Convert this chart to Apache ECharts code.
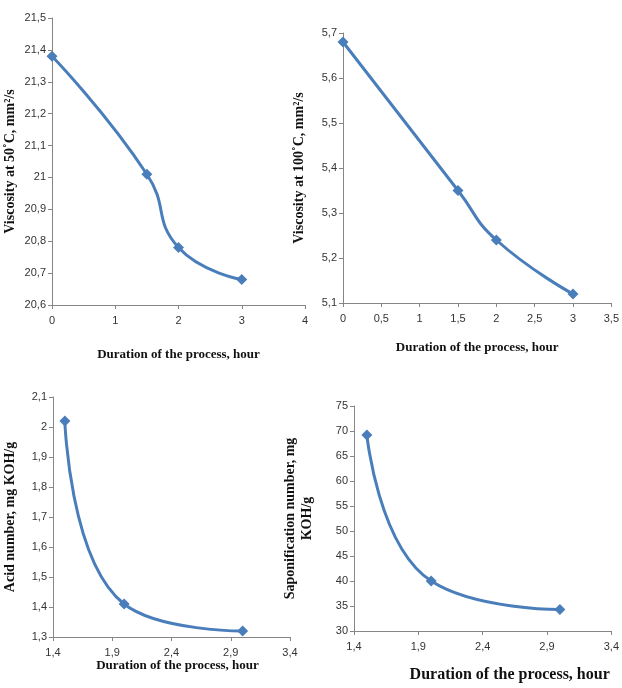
<!DOCTYPE html>
<html>
<head>
<meta charset="utf-8">
<script src="https://cdn.jsdelivr.net/npm/echarts@6/dist/echarts.min.js"></script>
<style>
html, body { margin: 0; padding: 0; background: #fff; }
#main { width: 622px; height: 688px; }
</style>
</head>
<body>
<div id="main"></div>
<script>
// process duration, hours
var durTop = [0, 1.5, 2, 3];
var durBottom = [1.5, 2, 3];
var visc50 = [21.38, 21.01, 20.78, 20.68];
var visc100 = [5.68, 5.35, 5.24, 5.12];
var acidNum = [2.02, 1.41, 1.32];
var saponNum = [69.2, 40, 34.3];

var xName = 'Duration of the process, hour';
var yNames = [
	'Viscosity at 50˚C, mm²/s',
	'Viscosity at 100˚C, mm²/s',
	'Acid number, mg KOH/g',
	'Saponification number, mg\nKOH/g'
];

var lineColor = '#4a7ebb';
var axisColor = '#868686';

function comma(v){
	return String(+v.toFixed(1)).replace('.', ',');
}

function pairs(xs, ys){
	var out = [];
	for(var i = 0; i < xs.length; i++){
		out.push([xs[i], ys[i]]);
	}
	return out;
}

function makeX(idx, min, max, interval, gap, fontSize, padLeft){
	return {
		type: 'value',
		gridIndex: idx,
		min: min,
		max: max,
		interval: interval,
		name: xName,
		nameLocation: 'middle',
		nameGap: gap,
		nameTextStyle: {
			fontFamily: 'Liberation Serif',
			fontWeight: 'bold',
			fontSize: fontSize,
			color: '#111',
			padding: [0, 0, 0, padLeft]
		},
		axisLine: {show: true, onZero: false, lineStyle: {color: axisColor}},
		axisTick: {show: true, inside: false, length: 4, lineStyle: {color: axisColor}},
		splitLine: {show: false},
		axisLabel: {
			formatter: comma,
			fontFamily: 'Liberation Sans',
			fontSize: 11,
			color: '#333',
			margin: 10
		}
	};
}

function makeY(idx, min, max, interval, name, gap){
	return {
		type: 'value',
		gridIndex: idx,
		min: min,
		max: max,
		interval: interval,
		name: name,
		nameLocation: 'middle',
		nameRotate: 90,
		nameGap: gap,
		nameTextStyle: {
			fontFamily: 'Liberation Serif',
			fontWeight: 'bold',
			fontSize: 14,
			lineHeight: 17,
			color: '#111'
		},
		axisLine: {show: true, lineStyle: {color: axisColor}},
		axisTick: {show: true, inside: false, length: 4, lineStyle: {color: axisColor}},
		splitLine: {show: false},
		axisLabel: {
			formatter: comma,
			fontFamily: 'Liberation Sans',
			fontSize: 11,
			color: '#333',
			margin: 6
		}
	};
}

function makeSeries(idx, data){
	return {
		type: 'line',
		xAxisIndex: idx,
		yAxisIndex: idx,
		data: data,
		smooth: 0.5,
		symbol: 'diamond',
		symbolSize: 11,
		lineStyle: {color: lineColor, width: 3},
		itemStyle: {color: lineColor}
	};
}

var option = {
	backgroundColor: '#fff',
	animation: false,
	grid: [
		{left: 52, top: 18, width: 253, height: 287},
		{left: 343, top: 33, width: 273, height: 270},
		{left: 53, top: 397, width: 237, height: 240},
		{left: 354, top: 406, width: 262, height: 225}
	],
	xAxis: [
		makeX(0, 0, 4, 1, 43, 13, 0),
		makeX(1, 0, 3.5, 0.5, 38, 13, 0),
		makeX(2, 1.4, 3.4, 0.5, 22, 13, 12),
		makeX(3, 1.4, 3.4, 0.5, 36, 16, 54)
	],
	yAxis: [
		makeY(0, 20.6, 21.5, 0.1, yNames[0], 33),
		makeY(1, 5.1, 5.7, 0.1, yNames[1], 35),
		makeY(2, 1.3, 2.1, 0.1, yNames[2], 34),
		makeY(3, 30, 75, 5, yNames[3], 38)
	],
	series: [
		makeSeries(0, pairs(durTop, visc50)),
		makeSeries(1, pairs(durTop, visc100)),
		makeSeries(2, pairs(durBottom, acidNum)),
		makeSeries(3, pairs(durBottom, saponNum))
	]
};

var myChart = echarts.init(document.getElementById('main'));
myChart.setOption(option);
</script>
</body>
</html>
